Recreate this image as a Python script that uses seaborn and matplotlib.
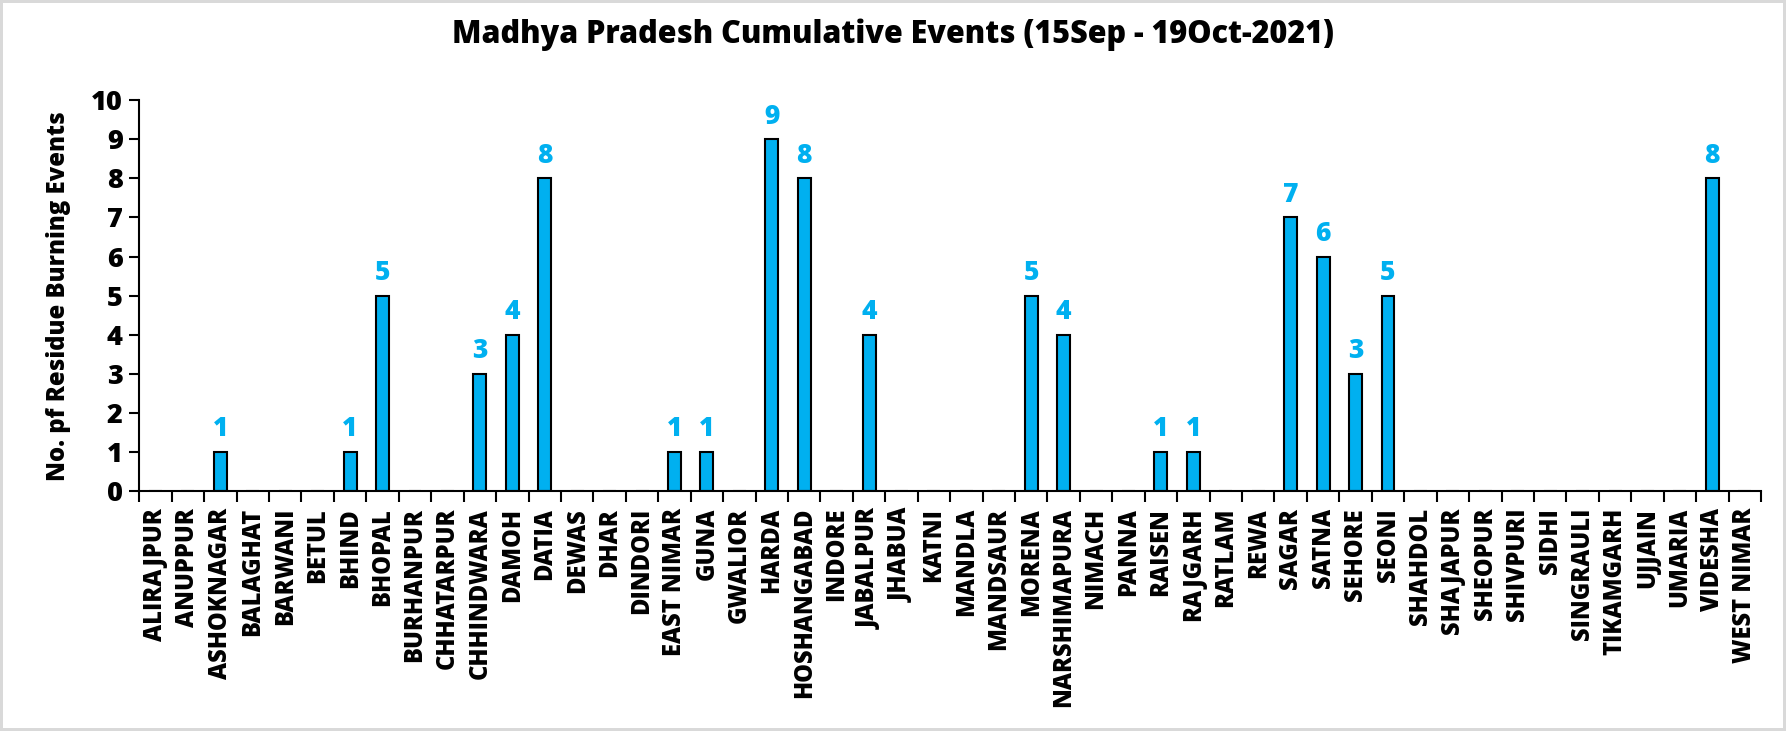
import matplotlib
matplotlib.use('Agg')
import matplotlib.pyplot as plt
import seaborn as sns
import pandas as pd
import numpy as np
from matplotlib.ticker import FixedLocator, NullFormatter

districts = ['ALIRAJPUR', 'ANUPPUR', 'ASHOKNAGAR', 'BALAGHAT', 'BARWANI', 'BETUL', 'BHIND',
             'BHOPAL', 'BURHANPUR', 'CHHATARPUR', 'CHHINDWARA', 'DAMOH', 'DATIA', 'DEWAS',
             'DHAR', 'DINDORI', 'EAST NIMAR', 'GUNA', 'GWALIOR', 'HARDA', 'HOSHANGABAD',
             'INDORE', 'JABALPUR', 'JHABUA', 'KATNI', 'MANDLA', 'MANDSAUR', 'MORENA',
             'NARSHIMAPURA', 'NIMACH', 'PANNA', 'RAISEN', 'RAJGARH', 'RATLAM', 'REWA',
             'SAGAR', 'SATNA', 'SEHORE', 'SEONI', 'SHAHDOL', 'SHAJAPUR', 'SHEOPUR',
             'SHIVPURI', 'SIDHI', 'SINGRAULI', 'TIKAMGARH', 'UJJAIN', 'UMARIA', 'VIDESHA',
             'WEST NIMAR']
events = [0, 0, 1, 0, 0, 0, 1,
          5, 0, 0, 3, 4, 8, 0,
          0, 0, 1, 1, 0, 9, 8,
          0, 4, 0, 0, 0, 0, 5,
          4, 0, 0, 1, 1, 0, 0,
          7, 6, 3, 5, 0, 0, 0,
          0, 0, 0, 0, 0, 0, 8,
          0]

df = pd.DataFrame({'District': districts, 'Events': events})

sns.set_style('white')
plt.rcParams['font.family'] = ['Open Sans', 'DejaVu Sans']
plt.rcParams['font.weight'] = 'heavy'
plt.rcParams['text.color'] = 'black'
plt.rcParams['axes.labelcolor'] = 'black'
plt.rcParams['xtick.color'] = 'black'
plt.rcParams['ytick.color'] = 'black'
W = 'heavy'

fig = plt.figure(figsize=(17.86, 7.31), dpi=100)
fig.patch.set_edgecolor('#d9d9d9')
fig.patch.set_linewidth(3)
ax = fig.add_axes([0.078, 0.328, 0.908, 0.535])

sns.barplot(data=df, x='District', y='Events', color='#00B0F0', saturation=1,
            edgecolor='black', linewidth=1.5, width=0.4, ax=ax)

labels = [str(v) if v > 0 else '' for v in events]
ax.bar_label(ax.containers[0], labels=labels, padding=7, color='#00B0F0',
             fontsize=19, fontweight=W)

ax.set_xlim(-0.5, len(districts) - 0.5)
ax.set_ylim(0, 10)
ax.set_yticks(range(0, 11))
ax.tick_params(axis='y', labelsize=19.5, length=7, width=1.5, direction='out', left=True, pad=5)
ax.tick_params(axis='x', which='major', labelsize=17, length=0, rotation=90, pad=12)
ax.xaxis.set_minor_locator(FixedLocator(np.arange(-0.5, len(districts), 1)))
ax.xaxis.set_minor_formatter(NullFormatter())
ax.tick_params(axis='x', which='minor', length=8, width=1.5, direction='out', bottom=True)
for lab in ax.get_xticklabels() + ax.get_yticklabels():
    lab.set_fontweight(W)

for side in ['top', 'right']:
    ax.spines[side].set_visible(False)
for side in ['left', 'bottom']:
    ax.spines[side].set_linewidth(1.5)
    ax.spines[side].set_color('black')

ax.set_xlabel('')
ax.set_ylabel('No. pf Residue Burning Events', fontsize=17.2, fontweight=W, labelpad=14)
fig.suptitle('Madhya Pradesh Cumulative Events (15Sep - 19Oct-2021)', fontsize=22,
             fontweight=W, y=0.975)

fig.savefig('out.png', dpi=100, edgecolor=fig.get_edgecolor())
